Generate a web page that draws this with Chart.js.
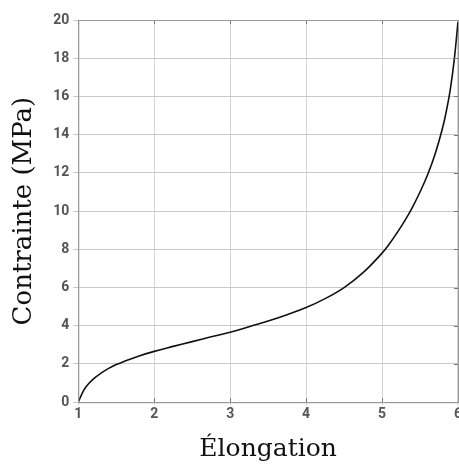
<!DOCTYPE html>
<html>
<head>
<meta charset="utf-8">
<script src="https://cdn.jsdelivr.net/npm/chart.js@4/dist/chart.umd.min.js"></script>
<style>
  html, body { margin: 0; padding: 0; background: #fff; overflow: hidden; }
  #wrap { position: relative; width: 463px; height: 468px; }
</style>
</head>
<body>
<div id="wrap"><canvas id="chart"></canvas></div>
<script>
// courbe contrainte / élongation
const elongation = [1.0, 1.05, 1.1, 1.2, 1.3, 1.4, 1.5, 1.6, 1.8, 2.0, 2.25, 2.5, 2.75, 3.0, 3.25, 3.5, 3.75, 4.0, 4.25, 4.5, 4.75, 5.0, 5.1, 5.2, 5.3, 5.4, 5.5, 5.6, 5.7, 5.8, 5.85, 5.9, 5.95, 6.0]
const contrainte = [0, 0.45, 0.8, 1.22, 1.52, 1.77, 1.97, 2.13, 2.42, 2.66, 2.92, 3.17, 3.42, 3.66, 3.95, 4.25, 4.58, 4.95, 5.42, 6.0, 6.78, 7.8, 8.3, 8.88, 9.5, 10.2, 11.0, 11.9, 13.0, 14.4, 15.3, 16.4, 17.9, 19.9]
const xTicks = [1, 2, 3, 4, 5, 6]
const yTicks = [0, 2, 4, 6, 8, 10, 12, 14, 16, 18, 20]

const points = elongation.map((x, i) => ({ x: x, y: contrainte[i] }))

// petits traits vers l'intérieur en haut et à droite
const mirrorTicks = {
  id: 'mirrorTicks',
  afterDraw(chart) {
    const c = chart.ctx, a = chart.chartArea
    const xs = chart.scales.x, ys = chart.scales.y
    c.save()
    c.strokeStyle = '#777'
    c.lineWidth = 1
    c.beginPath()
    xTicks.forEach(v => {
      const px = Math.round(xs.getPixelForValue(v)) + 0.5
      c.moveTo(px, a.top); c.lineTo(px, a.top + 4)
      c.moveTo(px, a.bottom); c.lineTo(px, a.bottom - 4)
    })
    yTicks.forEach(v => {
      const py = Math.round(ys.getPixelForValue(v)) + 0.5
      c.moveTo(a.right, py); c.lineTo(a.right - 4, py)
    })
    c.stroke()
    c.strokeStyle = '#999'
    c.strokeRect(a.left + 0.5, a.top + 0.5, a.right - a.left, a.bottom - a.top)
    c.restore()
  }
}

new Chart(document.getElementById('chart'), {
  type: 'line',
  data: {
    datasets: [{
      data: points,
      borderColor: '#111',
      borderWidth: 1.6,
      pointRadius: 0,
      fill: false,
      tension: 0.4
    }]
  },
  options: {
    responsive: true,
    maintainAspectRatio: false,
    animation: false,
    layout: { padding: { top: 20, right: 2, left: 9, bottom: 4 } },
    plugins: { legend: { display: false }, tooltip: { enabled: false } },
    scales: {
      x: {
        type: 'linear',
        min: 1,
        max: 6,
        afterBuildTicks: s => { s.ticks = xTicks.map(v => ({ value: v })) },
        grid: { color: '#d4d4d4', tickLength: 3 },
        border: { color: '#999' },
        ticks: { color: '#555', font: { family: 'Roboto', size: 14, weight: 'bold' }, padding: 1 },
        title: {
          display: true,
          text: 'Élongation',
          color: '#111',
          font: { family: 'DejaVu Serif', size: 25 },
          padding: { top: 10, bottom: 0 }
        }
      },
      y: {
        min: 0,
        max: 20,
        afterBuildTicks: s => { s.ticks = yTicks.map(v => ({ value: v })) },
        grid: { color: '#c8c8c8', tickLength: 5 },
        border: { color: '#999' },
        ticks: { color: '#555', font: { family: 'Roboto', size: 14, weight: 'bold' }, padding: 4 },
        title: {
          display: true,
          text: 'Contrainte (MPa)',
          color: '#111',
          font: { family: 'DejaVu Serif', size: 26 },
          padding: { top: 0, bottom: 9 }
        }
      }
    }
  },
  plugins: [mirrorTicks]
})
</script>
</body>
</html>
